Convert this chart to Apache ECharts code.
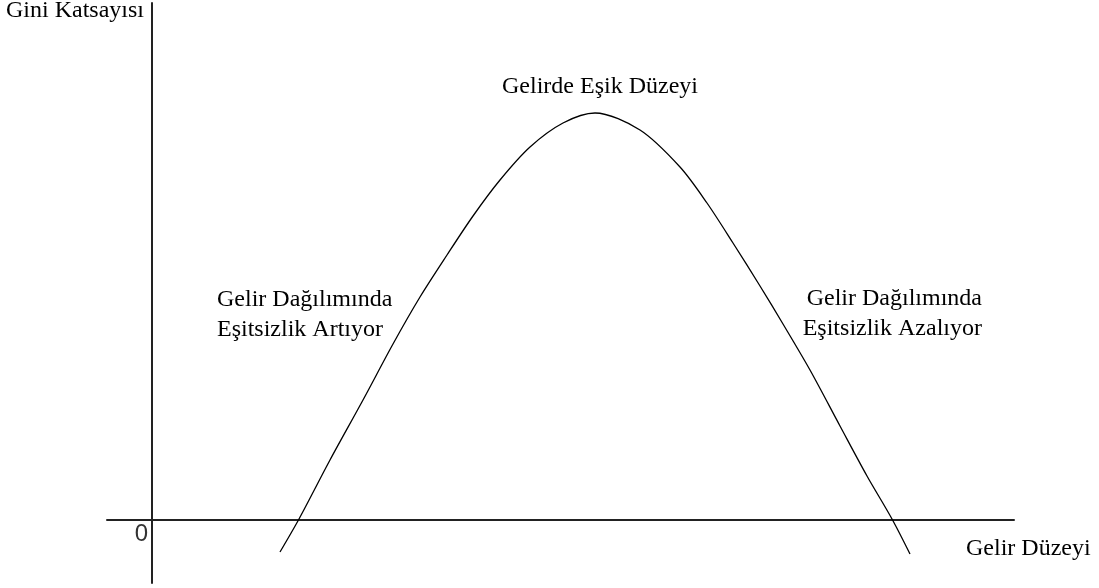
<!DOCTYPE html>
<html>
<head>
<meta charset="utf-8">
<title>Kuznets</title>
<script src="https://cdn.jsdelivr.net/npm/echarts@6/dist/echarts.min.js"></script>
<style>
  html, body { margin: 0; padding: 0; background: #fff; }
  #main { width: 1099px; height: 588px; }
</style>
</head>
<body>
<div id="main"></div>
<script>
// gelir düzeyi (x) ve gini katsayısı (y), resimden okunan noktalar
const gelir = [12.8, 14.7, 17.8, 21.1, 24.1, 26.8, 29.5, 32.1, 34.8, 37.8, 41.1, 44.3,
  48.8, 52.8, 55.5, 58.1, 60.8, 63.1, 65.8, 68.8, 71.5, 74.0, 75.8];
const gini = [-3.2, 0.1, 6.0, 12.0, 17.6, 22.3, 26.5, 30.4, 34.0, 37.3, 39.7, 40.7,
  39.0, 35.3, 31.7, 27.7, 23.4, 19.6, 15.0, 9.4, 4.4, 0.1, -3.4];

const yTitle = "Gini Katsayısı";
const xTitle = "Gelir Düzeyi";
const peakLabel = "Gelirde Eşik Düzeyi";
const leftLabel = ["Gelir Dağılımında", "Eşitsizlik Artıyor"];
const rightLabel = ["Gelir Dağılımında", "Eşitsizlik Azalıyor"];
const originLabel = "0";

var chartDom = document.getElementById("main");
var myChart = echarts.init(chartDom);

const serif = "24px 'Liberation Serif', 'DejaVu Serif', serif";
const textColor = "#000";

var option = {
  animation: false,
  grid: {
    left: 107,
    right: 85,
    top: 3,
    bottom: 5,
  },
  xAxis: {
    type: "value",
    min: -4.5,
    max: 86.2,
    axisLine: {
      onZero: true,
      lineStyle: { color: "#222", width: 2 },
    },
    axisTick: { show: false },
    axisLabel: { show: false },
    splitLine: { show: false },
  },
  yAxis: {
    type: "value",
    min: -6.3,
    max: 51.7,
    axisLine: {
      show: true,
      onZero: true,
      lineStyle: { color: "#222", width: 2 },
    },
    axisTick: { show: false },
    axisLabel: { show: false },
    splitLine: { show: false },
  },
  series: [
    {
      type: "line",
      smooth: 0.3,
      symbol: "none",
      data: gelir.map((g, i) => [g, gini[i]]),
      lineStyle: { color: "#000", width: 1.3 },
    },
  ],
  graphic: [
    { type: "text", style: { text: yTitle, x: 6, y: 11, font: serif, fill: textColor, textVerticalAlign: "middle" } },
    { type: "text", style: { text: peakLabel, x: 600, y: 87, font: serif, fill: textColor, textAlign: "center", textVerticalAlign: "middle" } },
    { type: "text", style: { text: leftLabel[0], x: 217, y: 300, font: serif, fill: textColor, textVerticalAlign: "middle" } },
    { type: "text", style: { text: leftLabel[1], x: 217, y: 330, font: serif, fill: textColor, textVerticalAlign: "middle" } },
    { type: "text", style: { text: rightLabel[0], x: 982, y: 299, font: serif, fill: textColor, textAlign: "right", textVerticalAlign: "middle" } },
    { type: "text", style: { text: rightLabel[1], x: 982, y: 329, font: serif, fill: textColor, textAlign: "right", textVerticalAlign: "middle" } },
    { type: "text", style: { text: originLabel, x: 148, y: 534, font: "24px 'Liberation Sans', Arial, sans-serif", fill: "#333", textAlign: "right", textVerticalAlign: "middle" } },
    { type: "text", style: { text: xTitle, x: 966, y: 549, font: serif, fill: textColor, textVerticalAlign: "middle" } },
  ],
};

option && myChart.setOption(option);
</script>
</body>
</html>
